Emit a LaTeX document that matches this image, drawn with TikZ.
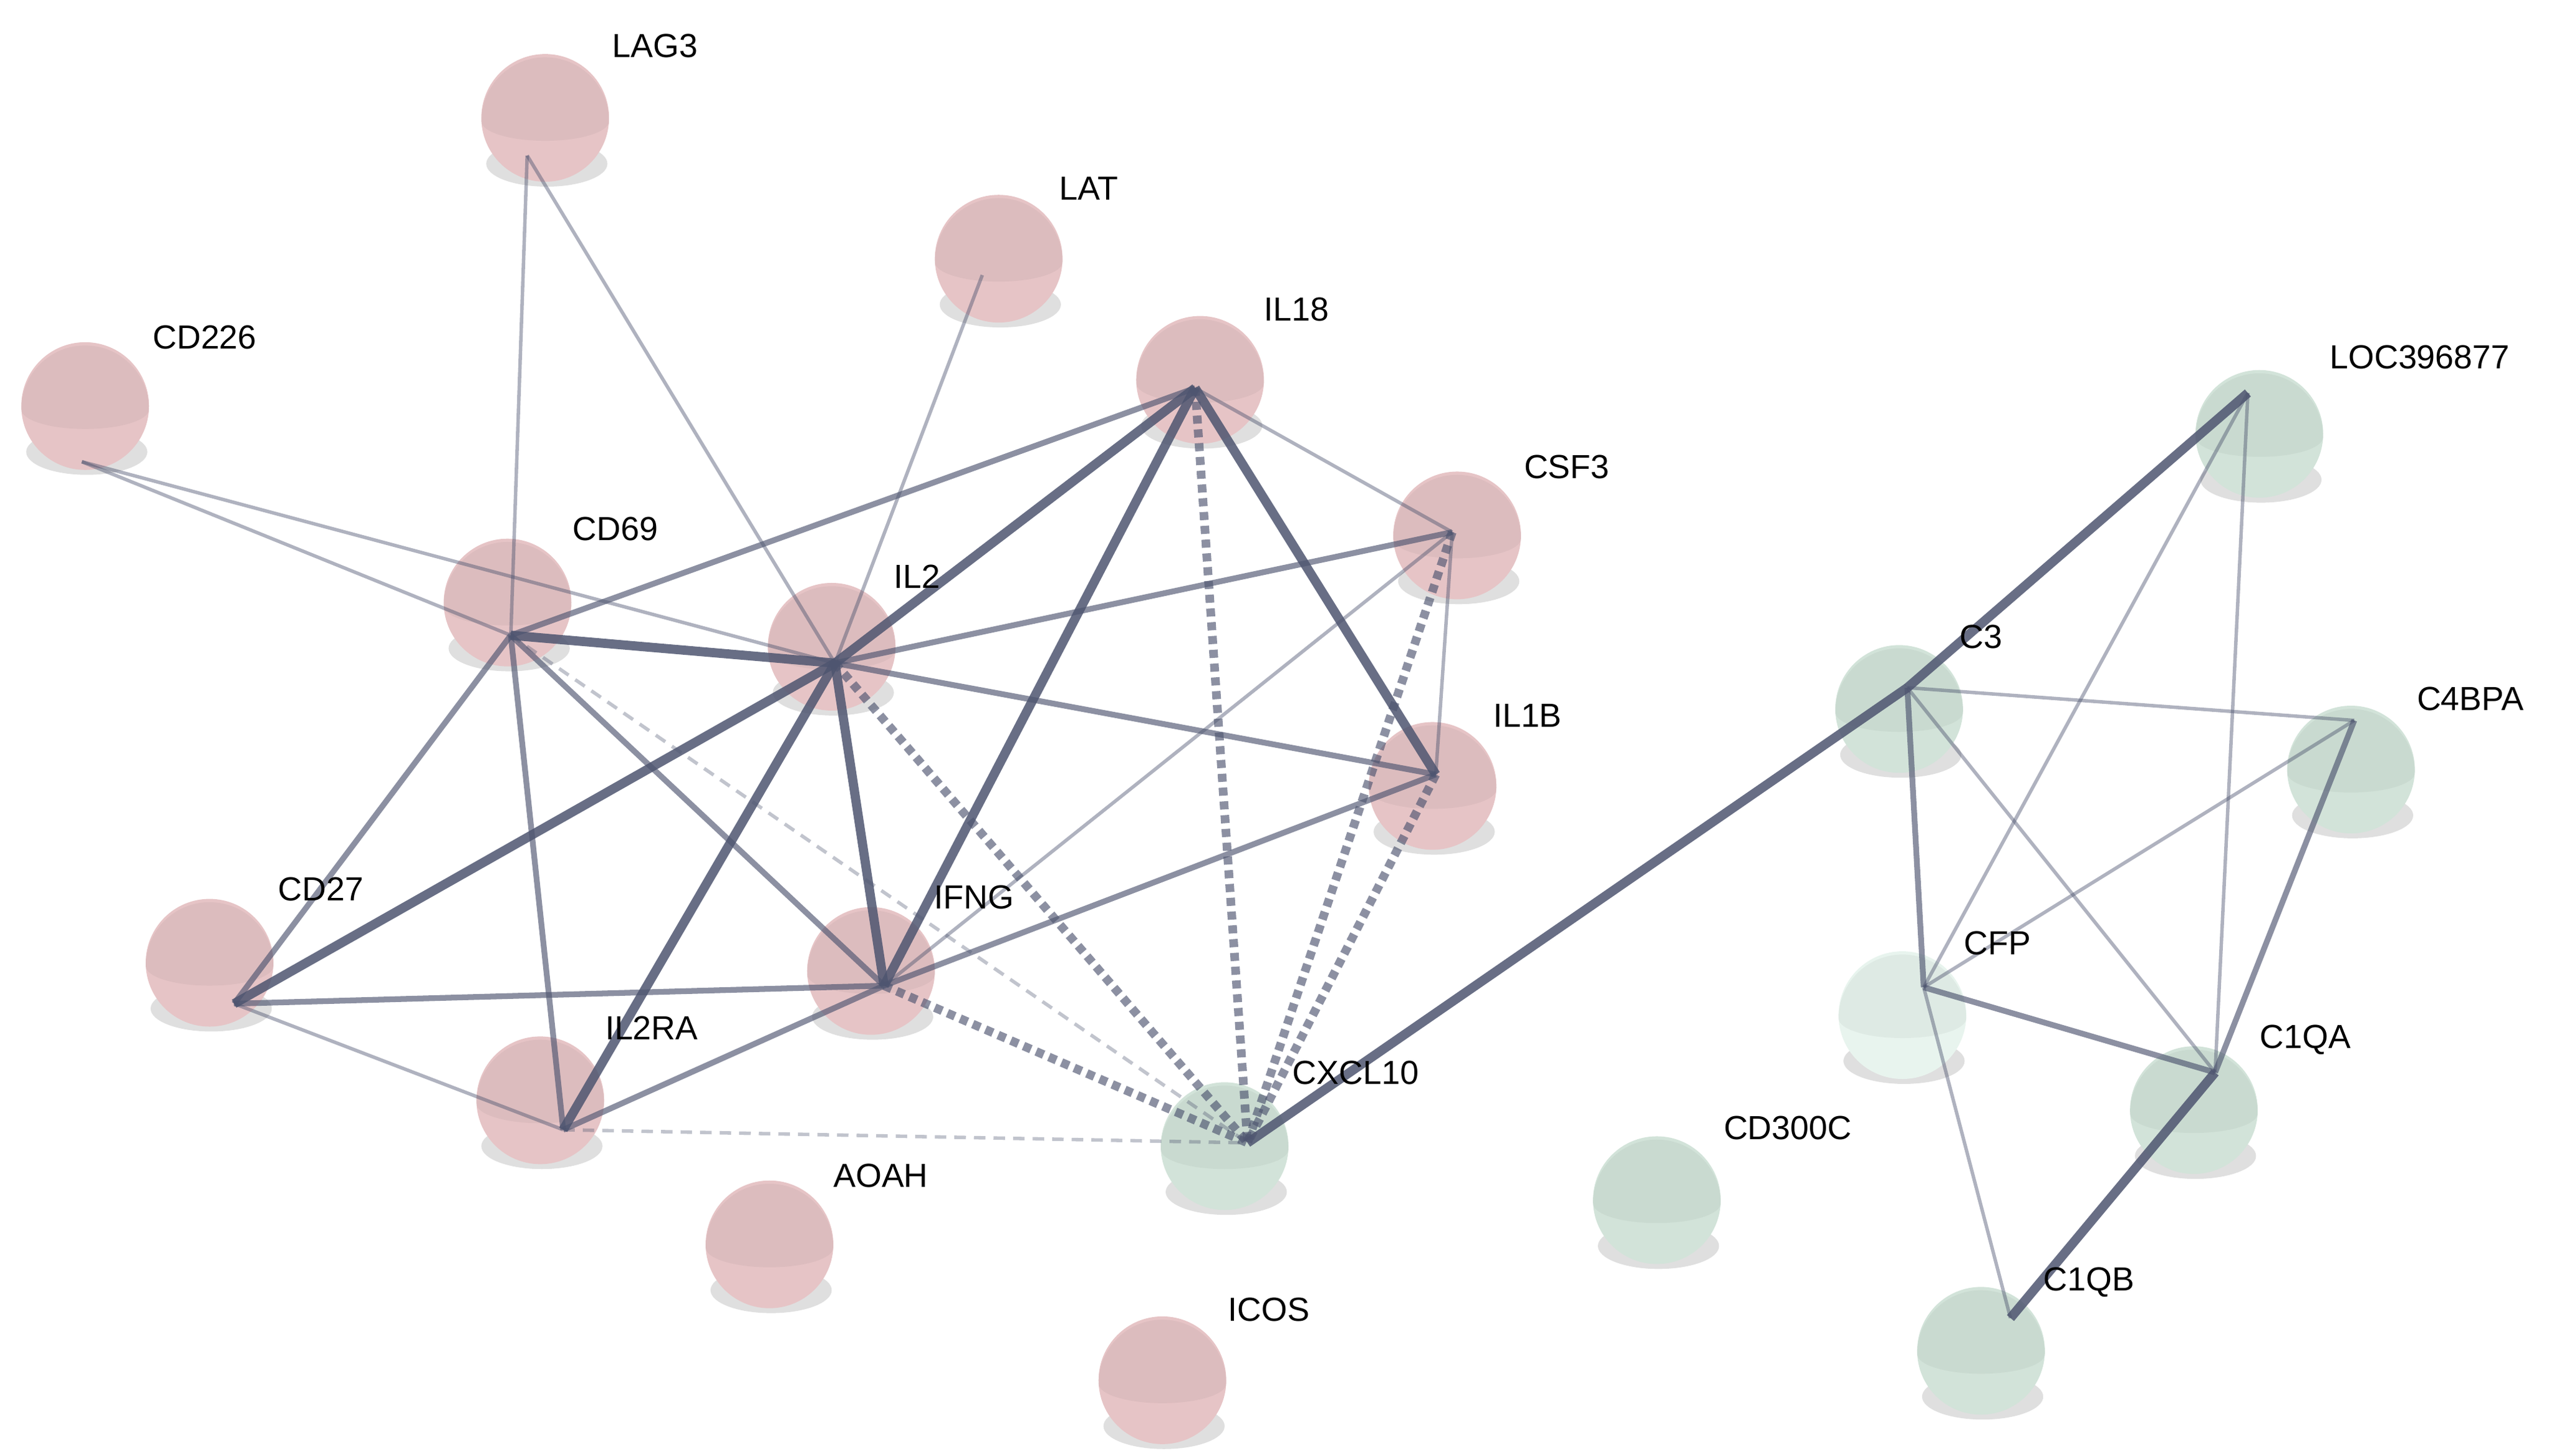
\documentclass[tikz,border=0pt]{standalone}
\usepackage{fontspec}
\setmainfont{Liberation Sans}
\begin{document}
\begin{tikzpicture}[x=0.1cm,y=-0.1cm,
  lab/.style={anchor=center,font=\fontsize{58}{70}\selectfont,text=black},
  e/.style={draw=edgec,line width=#1,opacity=0.75},
  thin/.style={e=6pt,opacity=0.45},
  med/.style={e=10pt,opacity=0.65},
  thick/.style={e=16pt,opacity=0.85},
  dot/.style={draw=edgec,line width=15pt,dash pattern=on 14pt off 10pt,opacity=0.65},
  dsh/.style={draw=edgec,line width=6pt,dash pattern=on 20pt off 14pt,opacity=0.35}]
\definecolor{edgec}{HTML}{4E5570}
\definecolor{pink}{HTML}{E6C4C6}
\definecolor{grn}{HTML}{D2E3D9}
\definecolor{lgrn}{HTML}{E8F4EE}
\useasboundingbox (0,0) rectangle (1560,889);
\newcommand{\sph}[4]{%
  \fill[gray!25] (#2+1,#3+28) ellipse (37 and 14);
  \node[circle,minimum size=78*0.1cm,inner sep=0,fill=#4] (#1) at (#2,#3) {};
  \fill[#4!80!black,opacity=0.2] (#2-39,#3+2) arc (180:360:39) -- (#2+39,#3+2) arc (0:180:39 and 12) -- cycle;
}
\sph{LAG3s}{333}{72}{pink}
\sph{LATs}{610}{158}{pink}
\sph{CD226s}{52}{248}{pink}
\sph{IL18s}{733}{232}{pink}
\sph{CSF3s}{890}{327}{pink}
\sph{CD69s}{310}{368}{pink}
\sph{IL2s}{508}{395}{pink}
\sph{IL1Bs}{875}{480}{pink}
\sph{CD27s}{128}{588}{pink}
\sph{IFNGs}{532}{593}{pink}
\sph{IL2RAs}{330}{672}{pink}
\sph{CXCL10s}{748}{700}{grn}
\sph{AOAHs}{470}{760}{pink}
\sph{ICOSs}{710}{843}{pink}
\sph{CD300Cs}{1012}{733}{grn}
\sph{LOCs}{1380}{265}{grn}
\sph{C3s}{1160}{433}{grn}
\sph{C4BPAs}{1436}{470}{grn}
\sph{CFPs}{1162}{620}{lgrn}
\sph{C1QAs}{1340}{678}{grn}
\sph{C1QBs}{1210}{825}{grn}
\coordinate (LAG3) at (322,95);
\coordinate (LAT) at (600,168);
\coordinate (CD226) at (50,282);
\coordinate (IL18) at (730,237);
\coordinate (CSF3) at (887,325);
\coordinate (CD69) at (312,388);
\coordinate (IL2) at (510,405);
\coordinate (IL1B) at (877,473);
\coordinate (CD27) at (143,613);
\coordinate (IFNG) at (540,602);
\coordinate (IL2RA) at (344,690);
\coordinate (CXCL10) at (762,698);
\coordinate (LOC) at (1373,240);
\coordinate (C3) at (1165,420);
\coordinate (C4BPA) at (1438,440);
\coordinate (CFP) at (1175,603);
\coordinate (C1QA) at (1353,655);
\coordinate (C1QB) at (1228,805);
% edges
\draw[thin] (LAG3) -- (CD69);
\draw[thin] (LAG3) -- (IL2);
\draw[thin] (LAT) -- (IL2);
\draw[thin] (CD226) -- (CD69);
\draw[thin] (CD226) -- (IL2);
\draw[med] (IL18) -- (CD69);
\draw[thick] (IL18) -- (IL2);
\draw[thick] (IL18) -- (IFNG);
\draw[thin] (IL18) -- (CSF3);
\draw[thick] (IL18) -- (IL1B);
\draw[dot] (IL18) -- (CXCL10);
\draw[med] (CSF3) -- (IL2);
\draw[thin] (CSF3) -- (IFNG);
\draw[thin] (CSF3) -- (IL1B);
\draw[dot] (CSF3) -- (CXCL10);
\draw[thick] (CD69) -- (IL2);
\draw[med] (CD69) -- (CD27);
\draw[med] (CD69) -- (IL2RA);
\draw[med] (CD69) -- (IFNG);
\draw[dsh] (CD69) -- (CXCL10);
\draw[thick] (IL2) -- (CD27);
\draw[thick] (IL2) -- (IL2RA);
\draw[thick] (IL2) -- (IFNG);
\draw[med] (IL2) -- (IL1B);
\draw[dot] (IL2) -- (CXCL10);
\draw[med] (IFNG) -- (IL1B);
\draw[med] (IFNG) -- (IL2RA);
\draw[dot] (IL1B) -- (CXCL10);
\draw[med] (CD27) -- (IFNG);
\draw[thin] (CD27) -- (IL2RA);
\draw[dot] (IFNG) -- (CXCL10);
\draw[dsh] (IL2RA) -- (CXCL10);
\draw[thick] (CXCL10) -- (C3);
\draw[thick] (C3) -- (LOC);
\draw[thin] (LOC) -- (CFP);
\draw[thin] (LOC) -- (C1QA);
\draw[thin] (C3) -- (C4BPA);
\draw[thin] (C3) -- (C1QA);
\draw[med] (C3) -- (CFP);
\draw[thin] (C4BPA) -- (CFP);
\draw[med] (C4BPA) -- (C1QA);
\draw[med] (CFP) -- (C1QA);
\draw[thin] (CFP) -- (C1QB);
\draw[thick] (C1QA) -- (C1QB);
% labels
\node[lab] (tLAG3) at (400,28) {LAG3};
\node[lab] (tLAT) at (665,115) {LAT};
\node[lab] (tCD226) at (125,206) {CD226};
\node[lab] (tIL18) at (792,189) {IL18};
\node[lab] (tCSF3) at (957,285) {CSF3};
\node[lab] (tCD69) at (376,323) {CD69};
\node[lab] (tIL2) at (560,352) {IL2};
\node[lab] (tIL1B) at (933,437) {IL1B};
\node[lab] (tCD27) at (196,543) {CD27};
\node[lab] (tIFNG) at (595,548) {IFNG};
\node[lab] (tIL2RA) at (398,628) {IL2RA};
\node[lab] (tCXCL10) at (828,655) {CXCL10};
\node[lab] (tAOAH) at (538,718) {AOAH};
\node[lab] (tICOS) at (775,800) {ICOS};
\node[lab] (tCD300C) at (1092,689) {CD300C};
\node[lab] (tLOC) at (1478,218) {LOC396877};
\node[lab] (tC3) at (1210,389) {C3};
\node[lab] (tC4BPA) at (1509,427) {C4BPA};
\node[lab] (tCFP) at (1220,576) {CFP};
\node[lab] (tC1QA) at (1408,635) {C1QA};
\node[lab] (tC1QB) at (1276,783) {C1QB};
\end{tikzpicture}
\end{document}
